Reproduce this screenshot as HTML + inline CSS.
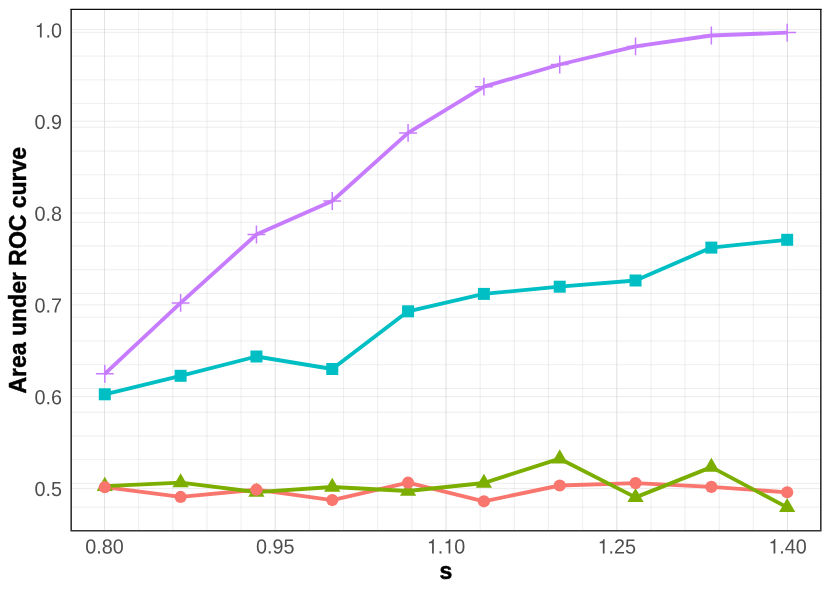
<!DOCTYPE html>
<html><head><meta charset="utf-8"><title>AUC vs s</title>
<style>
html,body{margin:0;padding:0;background:#fff;}
body{width:830px;height:593px;overflow:hidden;font-family:"Liberation Sans",sans-serif;}
svg{display:block;will-change:transform;}
</style></head><body>
<svg width="830" height="593" viewBox="0 0 830 593">
<rect width="830" height="593" fill="#fff"/>
<g stroke="#c8c8c8" stroke-width="0.32" fill="none">
<line x1="104.50" y1="9.5" x2="104.50" y2="530.7"/>
<line x1="138.65" y1="9.5" x2="138.65" y2="530.7"/>
<line x1="172.80" y1="9.5" x2="172.80" y2="530.7"/>
<line x1="206.95" y1="9.5" x2="206.95" y2="530.7"/>
<line x1="241.10" y1="9.5" x2="241.10" y2="530.7"/>
<line x1="275.25" y1="9.5" x2="275.25" y2="530.7"/>
<line x1="309.40" y1="9.5" x2="309.40" y2="530.7"/>
<line x1="343.55" y1="9.5" x2="343.55" y2="530.7"/>
<line x1="377.70" y1="9.5" x2="377.70" y2="530.7"/>
<line x1="411.85" y1="9.5" x2="411.85" y2="530.7"/>
<line x1="446.00" y1="9.5" x2="446.00" y2="530.7"/>
<line x1="480.15" y1="9.5" x2="480.15" y2="530.7"/>
<line x1="514.30" y1="9.5" x2="514.30" y2="530.7"/>
<line x1="548.45" y1="9.5" x2="548.45" y2="530.7"/>
<line x1="582.60" y1="9.5" x2="582.60" y2="530.7"/>
<line x1="616.75" y1="9.5" x2="616.75" y2="530.7"/>
<line x1="650.90" y1="9.5" x2="650.90" y2="530.7"/>
<line x1="685.05" y1="9.5" x2="685.05" y2="530.7"/>
<line x1="719.20" y1="9.5" x2="719.20" y2="530.7"/>
<line x1="753.35" y1="9.5" x2="753.35" y2="530.7"/>
<line x1="787.50" y1="9.5" x2="787.50" y2="530.7"/>
<line x1="71.2" y1="32.35" x2="820.8" y2="32.35"/>
<line x1="71.2" y1="56.09" x2="820.8" y2="56.09"/>
<line x1="71.2" y1="79.83" x2="820.8" y2="79.83"/>
<line x1="71.2" y1="103.57" x2="820.8" y2="103.57"/>
<line x1="71.2" y1="127.31" x2="820.8" y2="127.31"/>
<line x1="71.2" y1="151.05" x2="820.8" y2="151.05"/>
<line x1="71.2" y1="174.79" x2="820.8" y2="174.79"/>
<line x1="71.2" y1="198.53" x2="820.8" y2="198.53"/>
<line x1="71.2" y1="222.27" x2="820.8" y2="222.27"/>
<line x1="71.2" y1="246.01" x2="820.8" y2="246.01"/>
<line x1="71.2" y1="269.75" x2="820.8" y2="269.75"/>
<line x1="71.2" y1="293.49" x2="820.8" y2="293.49"/>
<line x1="71.2" y1="317.23" x2="820.8" y2="317.23"/>
<line x1="71.2" y1="340.97" x2="820.8" y2="340.97"/>
<line x1="71.2" y1="364.71" x2="820.8" y2="364.71"/>
<line x1="71.2" y1="388.45" x2="820.8" y2="388.45"/>
<line x1="71.2" y1="412.19" x2="820.8" y2="412.19"/>
<line x1="71.2" y1="435.93" x2="820.8" y2="435.93"/>
<line x1="71.2" y1="459.67" x2="820.8" y2="459.67"/>
<line x1="71.2" y1="483.41" x2="820.8" y2="483.41"/>
<line x1="71.2" y1="507.15" x2="820.8" y2="507.15"/>
</g>
<g stroke="#d9d9d9" stroke-width="0.5" fill="none">
<line x1="104.50" y1="9.5" x2="104.50" y2="530.7"/>
<line x1="275.25" y1="9.5" x2="275.25" y2="530.7"/>
<line x1="446.00" y1="9.5" x2="446.00" y2="530.7"/>
<line x1="616.75" y1="9.5" x2="616.75" y2="530.7"/>
<line x1="787.50" y1="9.5" x2="787.50" y2="530.7"/>
<line x1="71.2" y1="29.45" x2="820.8" y2="29.45"/>
<line x1="71.2" y1="121.25" x2="820.8" y2="121.25"/>
<line x1="71.2" y1="213.05" x2="820.8" y2="213.05"/>
<line x1="71.2" y1="304.85" x2="820.8" y2="304.85"/>
<line x1="71.2" y1="396.65" x2="820.8" y2="396.65"/>
<line x1="71.2" y1="488.45" x2="820.8" y2="488.45"/>
</g>
<polyline points="104.80,487.20 180.62,496.95 256.44,489.70 332.26,500.05 408.08,482.70 483.90,501.30 559.72,485.50 635.54,483.10 711.36,486.90 787.18,492.30" fill="none" stroke="#F8766D" stroke-width="3.85" stroke-linejoin="round" stroke-linecap="butt"/>
<polyline points="104.80,486.20 180.62,482.60 256.44,492.05 332.26,487.00 408.08,491.00 483.90,483.00 559.72,458.70 635.54,497.35 711.36,467.10 787.18,507.40" fill="none" stroke="#7CAE00" stroke-width="3.85" stroke-linejoin="round" stroke-linecap="butt"/>
<polyline points="104.80,394.30 180.62,375.80 256.44,356.50 332.26,369.00 408.08,311.30 483.90,293.90 559.72,286.70 635.54,280.50 711.36,247.60 787.18,239.80" fill="none" stroke="#00BFC4" stroke-width="3.85" stroke-linejoin="round" stroke-linecap="butt"/>
<polyline points="104.80,373.80 180.62,302.90 256.44,234.50 332.26,201.00 408.08,132.90 483.90,86.70 559.72,64.50 635.54,46.40 711.36,35.50 787.18,32.60" fill="none" stroke="#C77CFF" stroke-width="3.85" stroke-linejoin="round" stroke-linecap="butt"/>
<polygon points="104.80,476.85 112.90,490.88 96.70,490.88" fill="#7CAE00"/>
<polygon points="180.62,473.25 188.72,487.28 172.52,487.28" fill="#7CAE00"/>
<polygon points="256.44,482.70 264.54,496.73 248.34,496.73" fill="#7CAE00"/>
<polygon points="332.26,477.65 340.36,491.68 324.16,491.68" fill="#7CAE00"/>
<polygon points="408.08,481.65 416.18,495.68 399.98,495.68" fill="#7CAE00"/>
<polygon points="483.90,473.65 492.00,487.68 475.80,487.68" fill="#7CAE00"/>
<polygon points="559.72,449.35 567.82,463.38 551.62,463.38" fill="#7CAE00"/>
<polygon points="635.54,488.00 643.64,502.03 627.44,502.03" fill="#7CAE00"/>
<polygon points="711.36,457.75 719.46,471.78 703.26,471.78" fill="#7CAE00"/>
<polygon points="787.18,498.05 795.28,512.07 779.08,512.07" fill="#7CAE00"/>
<circle cx="104.80" cy="487.20" r="6.1" fill="#F8766D"/>
<circle cx="180.62" cy="496.95" r="6.1" fill="#F8766D"/>
<circle cx="256.44" cy="489.70" r="6.1" fill="#F8766D"/>
<circle cx="332.26" cy="500.05" r="6.1" fill="#F8766D"/>
<circle cx="408.08" cy="482.70" r="6.1" fill="#F8766D"/>
<circle cx="483.90" cy="501.30" r="6.1" fill="#F8766D"/>
<circle cx="559.72" cy="485.50" r="6.1" fill="#F8766D"/>
<circle cx="635.54" cy="483.10" r="6.1" fill="#F8766D"/>
<circle cx="711.36" cy="486.90" r="6.1" fill="#F8766D"/>
<circle cx="787.18" cy="492.30" r="6.1" fill="#F8766D"/>
<rect x="98.80" y="388.30" width="12.0" height="12.0" fill="#00BFC4"/>
<rect x="174.62" y="369.80" width="12.0" height="12.0" fill="#00BFC4"/>
<rect x="250.44" y="350.50" width="12.0" height="12.0" fill="#00BFC4"/>
<rect x="326.26" y="363.00" width="12.0" height="12.0" fill="#00BFC4"/>
<rect x="402.08" y="305.30" width="12.0" height="12.0" fill="#00BFC4"/>
<rect x="477.90" y="287.90" width="12.0" height="12.0" fill="#00BFC4"/>
<rect x="553.72" y="280.70" width="12.0" height="12.0" fill="#00BFC4"/>
<rect x="629.54" y="274.50" width="12.0" height="12.0" fill="#00BFC4"/>
<rect x="705.36" y="241.60" width="12.0" height="12.0" fill="#00BFC4"/>
<rect x="781.18" y="233.80" width="12.0" height="12.0" fill="#00BFC4"/>
<path d="M95.90,373.80H113.70M104.80,364.90V382.70" stroke="#C77CFF" stroke-width="1.5" fill="none"/>
<path d="M171.72,302.90H189.52M180.62,294.00V311.80" stroke="#C77CFF" stroke-width="1.5" fill="none"/>
<path d="M247.54,234.50H265.34M256.44,225.60V243.40" stroke="#C77CFF" stroke-width="1.5" fill="none"/>
<path d="M323.36,201.00H341.16M332.26,192.10V209.90" stroke="#C77CFF" stroke-width="1.5" fill="none"/>
<path d="M399.18,132.90H416.98M408.08,124.00V141.80" stroke="#C77CFF" stroke-width="1.5" fill="none"/>
<path d="M475.00,86.70H492.80M483.90,77.80V95.60" stroke="#C77CFF" stroke-width="1.5" fill="none"/>
<path d="M550.82,64.50H568.62M559.72,55.60V73.40" stroke="#C77CFF" stroke-width="1.5" fill="none"/>
<path d="M626.64,46.40H644.44M635.54,37.50V55.30" stroke="#C77CFF" stroke-width="1.5" fill="none"/>
<path d="M702.46,35.50H720.26M711.36,26.60V44.40" stroke="#C77CFF" stroke-width="1.5" fill="none"/>
<path d="M778.28,32.60H796.08M787.18,23.70V41.50" stroke="#C77CFF" stroke-width="1.5" fill="none"/>
<path d="M71.2,9.2V530.7H820.8V9.2" fill="none" stroke="#333" stroke-width="1.6" stroke-linejoin="miter"/>
<line x1="70.4" y1="9.45" x2="821.5999999999999" y2="9.45" stroke="#0d0d0d" stroke-width="1.2"/>
<g font-family="Liberation Sans, sans-serif" font-size="19.8" fill="#4d4d4d">
<g transform="translate(34.57,37.40) rotate(0.03) scale(1,1.03)"><path transform="translate(0.000,0) scale(0.019800,-0.019800)" d="M270 0V505H113V568C249 585 277 608 308 709H358V0Z"/><text x="11.013" y="0">.0</text></g>
<g transform="translate(34.57,129.10) rotate(0.03) scale(1,1.03)"><text x="0.000" y="0">0.9</text></g>
<g transform="translate(34.57,220.80) rotate(0.03) scale(1,1.03)"><text x="0.000" y="0">0.8</text></g>
<g transform="translate(34.57,312.50) rotate(0.03) scale(1,1.03)"><text x="0.000" y="0">0.7</text></g>
<g transform="translate(34.57,404.20) rotate(0.03) scale(1,1.03)"><text x="0.000" y="0">0.6</text></g>
<g transform="translate(34.57,495.90) rotate(0.03) scale(1,1.03)"><text x="0.000" y="0">0.5</text></g>
<g transform="translate(85.23,553.55) rotate(0.03) scale(1,1.03)"><text x="0.000" y="0">0.80</text></g>
<g transform="translate(255.98,553.55) rotate(0.03) scale(1,1.03)"><text x="0.000" y="0">0.95</text></g>
<g transform="translate(426.73,553.55) rotate(0.03) scale(1,1.03)"><path transform="translate(0.000,0) scale(0.019800,-0.019800)" d="M270 0V505H113V568C249 585 277 608 308 709H358V0Z"/><text x="11.013" y="0">.</text><path transform="translate(16.513,0) scale(0.019800,-0.019800)" d="M270 0V505H113V568C249 585 277 608 308 709H358V0Z"/><text x="27.526" y="0">0</text></g>
<g transform="translate(597.48,553.55) rotate(0.03) scale(1,1.03)"><path transform="translate(0.000,0) scale(0.019800,-0.019800)" d="M270 0V505H113V568C249 585 277 608 308 709H358V0Z"/><text x="11.013" y="0">.25</text></g>
<g transform="translate(768.23,553.55) rotate(0.03) scale(1,1.03)"><path transform="translate(0.000,0) scale(0.019800,-0.019800)" d="M270 0V505H113V568C249 585 277 608 308 709H358V0Z"/><text x="11.013" y="0">.40</text></g>
</g>
<g font-family="Liberation Sans, sans-serif" font-size="23" font-weight="bold" fill="#000" stroke="#000" stroke-width="0.45" stroke-linejoin="round">
<text x="446" y="579" text-anchor="middle">s</text>
<text transform="translate(25.5,270.2) rotate(-90)" text-anchor="middle">Area under ROC curve</text>
</g>
</svg>
</body></html>
